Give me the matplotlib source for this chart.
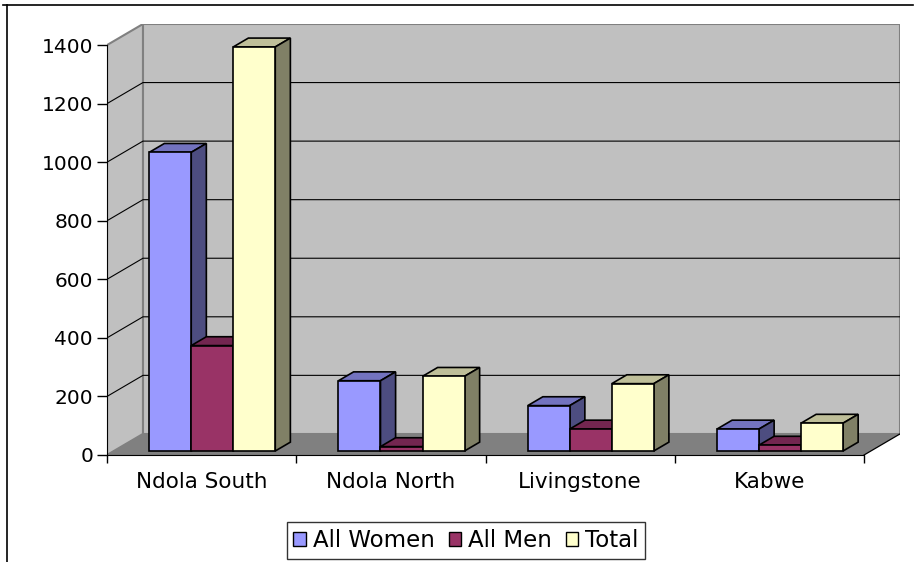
import matplotlib

matplotlib.use("Agg")

import matplotlib.pyplot as plt
from matplotlib.lines import Line2D
from matplotlib.patches import Patch, Polygon

# data
districts = ["Ndola South", "Ndola North", "Livingstone", "Kabwe"]
series_names = ["All Women", "All Men", "Total"]
all_women = [1020, 240, 155, 75]
all_men = [360, 15, 75, 20]
total = [1380, 255, 230, 95]
y_ticks = [0, 200, 400, 600, 800, 1000, 1200, 1400]

# Excel-like face colours: front, top, side
front_colors = ["#9999FF", "#993366", "#FFFFCC"]
top_colors = ["#7373BF", "#732650", "#BFBF99"]
side_colors = ["#4D4D80", "#4D1933", "#808066"]

# pseudo-3D geometry in data units
DX = 0.19          # depth shift along x (categories)
DY = 72.0          # depth shift along y (values)
D0, D1 = 0.19, 0.61  # bar depth range as fraction of the full depth
GAP = 0.187
W = 0.222
YMAX = y_ticks[-1]

plt.rcParams["font.family"] = ["DejaVu Sans"]
fig = plt.figure(figsize=(9.14, 5.62), dpi=100)
ax = fig.add_axes([107 / 914, (562 - 455) / 562, 793 / 914, 431 / 562])
ax.set_xlim(0, len(districts) + DX)
ax.set_ylim(0, YMAX + DY)
ax.patch.set_visible(False)

ncat = len(districts)
wall = "#C0C0C0"
edge = "#808080"

# walls and floor
ax.add_patch(Polygon([(DX, DY), (ncat + DX, DY), (ncat + DX, YMAX + DY), (DX, YMAX + DY)],
                     closed=True, facecolor=wall, edgecolor=edge, lw=1.5, zorder=0))
ax.add_patch(Polygon([(0, 0), (0, YMAX), (DX, YMAX + DY), (DX, DY)],
                     closed=True, facecolor=wall, edgecolor=edge, lw=1.5, zorder=0))
ax.add_patch(Polygon([(0, 0), (ncat, 0), (ncat + DX, DY), (DX, DY)],
                     closed=True, facecolor="#808080", edgecolor="none", zorder=0.5))
ax.plot([ncat, ncat + DX], [0, DY], color="black", lw=0.9, zorder=0.6)

for v in y_ticks[1:-1]:
    ax.plot([0, DX, ncat + DX], [v, v + DY, v + DY], color="black", lw=0.8, zorder=1)

values = [all_women, all_men, total]
for j, vals in enumerate(values):
    xs = [i + GAP + j * W + D0 * DX for i in range(ncat)]
    ax.bar(xs, vals, width=W, bottom=D0 * DY, align="edge",
           color=front_colors[j], edgecolor="black", lw=1.2, zorder=3 + 2 * j)
    for i, v in enumerate(vals):
        x0 = i + GAP + j * W
        x1 = x0 + W
        top = [(x0 + D0 * DX, v + D0 * DY), (x1 + D0 * DX, v + D0 * DY),
               (x1 + D1 * DX, v + D1 * DY), (x0 + D1 * DX, v + D1 * DY)]
        side = [(x1 + D0 * DX, D0 * DY), (x1 + D1 * DX, D1 * DY),
                (x1 + D1 * DX, v + D1 * DY), (x1 + D0 * DX, v + D0 * DY)]
        ax.add_patch(Polygon(top, closed=True, facecolor=top_colors[j],
                             edgecolor="black", lw=1.2, zorder=2 + 2 * j))
        ax.add_patch(Polygon(side, closed=True, facecolor=side_colors[j],
                             edgecolor="black", lw=1.2, zorder=2 + 2 * j))

# axes
for s in ["top", "right"]:
    ax.spines[s].set_visible(False)
ax.spines["left"].set_bounds(0, YMAX)
ax.spines["bottom"].set_bounds(0, ncat)
ax.spines["left"].set_zorder(10)
ax.spines["bottom"].set_zorder(10)
ax.set_yticks(y_ticks)
ax.tick_params(axis="y", length=7, width=1, pad=3, labelsize=14.5)
ax.set_xticks([i + 0.5 for i in range(ncat)])
ax.set_xticklabels(districts)
ax.set_xticks(range(ncat + 1), minor=True)
ax.tick_params(axis="x", which="major", length=0, pad=12, labelsize=15.5)
ax.tick_params(axis="x", which="minor", length=6, width=1)

handles = [Patch(facecolor=c, edgecolor="black", lw=1) for c in front_colors]
leg = fig.legend(handles, series_names, loc="center", bbox_to_anchor=(466 / 914, 1 - 540.5 / 562),
                 ncol=3, fontsize=16.5, frameon=True, fancybox=False, edgecolor="black",
                 handlelength=0.55, handleheight=0.55, handletextpad=0.3, columnspacing=0.6,
                 borderpad=0.3, borderaxespad=0)
leg.get_frame().set_linewidth(1)

# outer frame (top and left edges visible in the crop)
fig.add_artist(Line2D([3 / 914, 913 / 914], [1 - 5 / 562, 1 - 5 / 562], color="black", lw=1.2))
fig.add_artist(Line2D([7 / 914, 7 / 914], [0, 1 - 5 / 562], color="black", lw=1.2))

fig.savefig("out.png", dpi=100)
